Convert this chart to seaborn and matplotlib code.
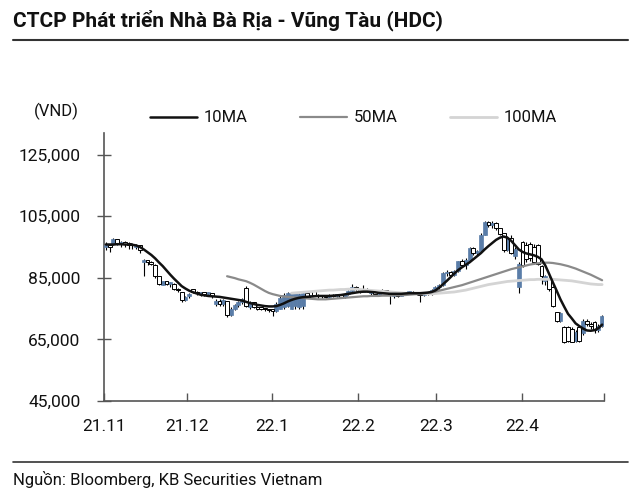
import numpy as np
import pandas as pd
import matplotlib
matplotlib.use("Agg")
import matplotlib.pyplot as plt
from matplotlib.lines import Line2D
from matplotlib.ticker import FuncFormatter
import seaborn as sns

# ---------------- data (prices in thousand VND) ----------------
title = "CTCP Phát triển Nhà Bà Rịa - Vũng Tàu (HDC)"
source = "Nguồn: Bloomberg, KB Securities Vietnam"
unit_label = "(VND)"
month_labels = ["21.11", "21.12", "22.1", "22.2", "22.3", "22.4", ""]
month_tick_pos = [-0.5, 21.4, 43.9, 66.6, 87.1, 109.9, 131.5]
y_ticks = [45000, 65000, 85000, 105000, 125000]

open_ = [95.0, 95.5, 96.0, 97.5, 96.0, 96.5, 96.0, 95.8, 95.0, 95.6,
         90.0, 90.8, 90.0, 89.0, 85.5, 82.5, 83.8, 83.0, 83.0, 81.5,
         80.5, 77.8, 79.0, 81.2, 80.3, 80.0, 80.2, 79.8, 79.9, 76.5,
         77.5, 76.5, 77.5, 73.0, 75.0, 76.2, 77.0, 81.8, 75.5, 77.0,
         75.5, 75.2, 75.0, 74.8, 74.5, 74.3, 75.0, 75.5, 76.0, 75.0,
         76.0, 75.5, 76.0, 80.0, 79.0, 80.6, 79.5, 79.0, 79.3, 78.8,
         79.5, 79.0, 79.6, 78.8, 79.8, 80.8, 82.0, 81.2, 80.5, 81.5,
         80.0, 80.6, 79.6, 80.5, 80.9, 80.3, 79.0, 79.8, 79.2, 80.0,
         80.2, 80.5, 80.0, 80.0, 79.3, 80.0, 79.6, 81.0, 82.0, 82.5,
         86.5, 87.0, 85.8, 87.2, 90.3, 89.0, 90.8, 94.8, 93.0, 93.8,
         99.0, 103.0, 102.0, 102.8, 101.0, 99.5, 94.0, 98.0, 92.0, 82.0,
         96.5, 95.5, 96.0, 95.0, 95.5, 88.7, 84.0, 85.0, 82.0, 73.8,
         71.0, 69.0, 69.0, 68.5, 64.5, 69.0, 67.0, 71.0, 70.0, 70.5,
         68.0, 69.5]
high = [96.5, 96.0, 97.8, 97.5, 97.0, 96.8, 96.5, 96.2, 96.0, 95.6,
        91.2, 90.8, 90.5, 89.5, 85.5, 84.0, 84.0, 83.5, 83.2, 81.8,
        80.5, 79.0, 80.0, 81.5, 80.8, 80.5, 80.4, 80.3, 80.0, 78.0,
        78.0, 78.0, 77.5, 75.5, 76.5, 77.5, 78.3, 82.3, 77.5, 77.2,
        76.0, 75.5, 75.3, 75.0, 74.8, 77.0, 79.0, 80.0, 80.3, 80.3,
        80.5, 80.0, 80.3, 80.2, 79.5, 80.8, 79.8, 79.5, 79.5, 79.8,
        79.8, 79.8, 79.7, 80.0, 81.0, 83.0, 82.2, 81.5, 82.8, 81.8,
        81.0, 80.8, 80.8, 81.2, 81.0, 80.5, 80.0, 80.0, 80.3, 80.5,
        80.8, 80.7, 80.4, 80.2, 80.2, 80.3, 81.2, 82.2, 83.0, 86.8,
        87.5, 87.2, 87.5, 90.5, 91.0, 91.5, 95.0, 95.0, 94.0, 99.5,
        103.5, 103.5, 103.3, 103.0, 101.2, 99.6, 98.5, 99.0, 95.0, 90.0,
        97.0, 96.5, 96.5, 96.0, 96.0, 89.0, 86.0, 85.3, 82.3, 74.0,
        74.0, 69.5, 69.3, 69.0, 68.0, 69.5, 71.5, 71.5, 70.5, 71.0,
        70.0, 73.0]
low = [94.0, 93.5, 95.5, 95.5, 95.0, 95.0, 94.5, 94.5, 94.5, 93.0,
       85.5, 89.0, 89.0, 85.0, 82.5, 82.5, 82.5, 82.0, 81.0, 80.5,
       77.2, 77.5, 78.5, 80.0, 79.5, 79.0, 79.0, 79.0, 78.5, 75.8,
       76.0, 76.0, 72.3, 72.5, 74.5, 75.5, 76.5, 75.5, 75.0, 75.2,
       74.5, 74.5, 74.3, 74.0, 72.5, 74.0, 74.8, 75.0, 75.5, 74.8,
       75.0, 75.0, 74.8, 78.8, 78.5, 79.0, 78.5, 78.5, 78.5, 78.5,
       78.8, 78.8, 78.5, 78.5, 79.5, 80.5, 80.8, 80.2, 80.3, 80.3,
       79.2, 79.0, 79.5, 80.0, 80.0, 76.4, 78.5, 78.8, 79.0, 79.5,
       79.8, 79.8, 79.5, 77.0, 79.0, 79.3, 79.5, 80.5, 81.5, 82.3,
       85.5, 85.5, 85.5, 87.0, 88.5, 88.0, 90.5, 92.5, 92.0, 93.5,
       98.8, 101.5, 101.0, 100.5, 98.8, 93.5, 93.8, 92.8, 91.0, 80.0,
       88.5, 90.0, 90.5, 89.5, 89.0, 83.0, 82.5, 80.8, 75.5, 70.5,
       70.8, 63.8, 64.0, 64.0, 64.0, 64.0, 66.5, 69.5, 68.5, 67.0,
       67.5, 69.0]
close = [95.5, 95.0, 97.5, 96.0, 96.5, 96.0, 95.8, 95.5, 95.6, 94.0,
         90.8, 90.0, 89.6, 85.5, 83.0, 83.8, 83.0, 83.2, 81.5, 81.0,
         77.8, 78.8, 79.8, 80.3, 80.0, 80.2, 79.8, 79.9, 79.0, 77.5,
         76.5, 77.8, 72.8, 75.0, 76.2, 77.0, 78.0, 76.0, 77.0, 75.5,
         75.0, 75.0, 74.8, 74.5, 74.3, 76.5, 78.5, 79.5, 80.0, 80.0,
         80.2, 79.8, 80.0, 79.0, 79.2, 79.5, 79.0, 79.3, 78.8, 79.5,
         79.0, 79.6, 78.8, 79.8, 80.8, 82.0, 81.2, 80.5, 81.5, 80.6,
         80.6, 79.6, 80.5, 80.9, 80.3, 79.5, 79.8, 79.2, 80.0, 80.2,
         80.5, 80.0, 80.2, 79.3, 80.0, 79.6, 81.0, 82.0, 82.5, 86.5,
         87.0, 85.8, 87.2, 90.3, 89.0, 90.8, 94.8, 93.0, 93.8, 99.0,
         103.0, 102.0, 102.8, 101.0, 99.3, 94.0, 98.0, 93.0, 94.5, 89.5,
         89.0, 91.0, 91.5, 90.0, 89.5, 85.5, 85.5, 81.2, 76.0, 71.0,
         73.5, 64.2, 64.5, 64.3, 67.5, 64.5, 71.0, 70.0, 69.5, 68.0,
         69.5, 72.5]

ma10 = [95.8, 95.8, 95.8, 95.9, 95.9, 95.8, 95.8, 95.7, 95.5, 95.0,
        94.2, 93.3, 92.4, 91.3, 90.0, 88.8, 87.4, 86.0, 84.7, 83.5,
        82.3, 81.5, 80.8, 80.3, 79.9, 79.5, 79.3, 79.1, 79.0, 78.9,
        78.8, 78.6, 78.4, 78.2, 78.0, 77.8, 77.6, 77.2, 76.8, 76.5,
        76.2, 76.0, 75.8, 75.7, 75.7, 75.8, 76.2, 76.7, 77.3, 77.8,
        78.2, 78.5, 78.7, 78.8, 78.9, 79.0, 79.1, 79.1, 79.1, 79.1,
        79.2, 79.3, 79.4, 79.6, 79.8, 80.0, 80.2, 80.4, 80.5, 80.5,
        80.4, 80.3, 80.1, 80.0, 79.9, 79.8, 79.8, 79.8, 79.8, 79.9,
        80.0, 80.0, 80.0, 80.0, 80.1, 80.2, 80.4, 80.9, 81.8, 82.9,
        84.0, 85.2, 86.4, 87.5, 88.4, 89.2, 90.0, 91.0, 92.0, 93.0,
        94.2, 95.3, 96.3, 97.3, 98.0, 98.4, 98.0, 97.0, 95.6, 94.2,
        93.4, 92.9, 92.6, 92.3, 91.8, 91.0, 89.0, 86.3, 83.5, 80.8,
        78.0, 75.6, 73.3, 71.8, 70.2, 69.3, 68.5, 67.9, 67.8, 68.0,
        68.6, 69.8]
ma50 = [np.nan] * 32 + [
        85.5, 85.2, 84.9, 84.5, 84.2, 83.9, 83.4, 82.8, 82.1, 81.4,
        80.7, 80.1, 79.7, 79.4, 79.1, 78.9, 78.8, 78.7, 78.6, 78.5,
        78.4, 78.3, 78.2, 78.1, 78.0, 78.0, 78.0, 78.1, 78.2, 78.3,
        78.4, 78.5, 78.6, 78.7, 78.8, 78.9, 79.0, 79.0, 79.1, 79.1,
        79.1, 79.2, 79.2, 79.2, 79.3, 79.3, 79.3, 79.4, 79.5, 79.6,
        79.7, 79.8, 79.9, 80.1, 80.3, 80.5, 80.8, 81.1, 81.4, 81.7,
        82.0, 82.3, 82.6, 83.0, 83.4, 83.8, 84.2, 84.6, 85.0, 85.4,
        85.8, 86.2, 86.6, 87.0, 87.4, 87.8, 88.1, 88.4, 88.7, 89.0,
        89.3, 89.5, 89.7, 89.8, 89.9, 89.9, 89.8, 89.6, 89.4, 89.1,
        88.8, 88.4, 88.0, 87.5, 87.0, 86.5, 86.0, 85.4, 84.8, 84.2]
ma100 = [np.nan] * 49 + [
        80.0, 80.1, 80.2, 80.3, 80.4, 80.5, 80.6, 80.7, 80.8, 80.9,
        81.0, 81.0, 81.1, 81.2, 81.2, 81.3, 81.3, 81.3, 81.2, 81.1,
        81.0, 80.9, 80.8, 80.7, 80.6, 80.5, 80.4, 80.3, 80.2, 80.1,
        80.0, 80.0, 79.9, 79.9, 79.8, 79.8, 79.8, 79.8, 79.9, 80.0,
        80.1, 80.2, 80.3, 80.4, 80.6, 80.8, 81.0, 81.3, 81.6, 81.9,
        82.2, 82.5, 82.8, 83.0, 83.2, 83.4, 83.6, 83.8, 83.9, 84.0,
        84.1, 84.2, 84.3, 84.4, 84.4, 84.5, 84.5, 84.5, 84.5, 84.5,
        84.4, 84.3, 84.2, 84.1, 84.0, 83.8, 83.6, 83.4, 83.2, 83.0,
        82.9, 82.8, 82.8]

# ---------------- styling ----------------
sns.set_style("white")
plt.rcParams["font.family"] = ["Roboto", "Noto Sans", "DejaVu Sans"]

BLUE = "#5A7DA8"
AX_COL = "#555555"

days = np.arange(len(close))
df = pd.DataFrame({
    "day": days,
    "open": np.array(open_) * 1000,
    "high": np.array(high) * 1000,
    "low": np.array(low) * 1000,
    "close": np.array(close) * 1000,
    "ma10": np.array(ma10) * 1000,
    "ma50": np.array(ma50) * 1000,
    "ma100": np.array(ma100[:len(close)]) * 1000,
})

fig = plt.figure(figsize=(6.4, 4.96), dpi=100)
ax = fig.add_axes([104 / 640, 1 - 401 / 496, 500 / 640, (401 - 133) / 496])

# candles
up = df["close"] >= df["open"]
ax.vlines(df["day"], df["low"], df["high"], color="black", lw=0.8, zorder=2)
body_bottom = np.minimum(df["open"], df["close"])
body_h = np.maximum(np.abs(df["close"] - df["open"]), 500)
ax.bar(df["day"][up], body_h[up], bottom=body_bottom[up], width=1.05,
       color=BLUE, edgecolor=BLUE, linewidth=0.5, zorder=3)
ax.bar(df["day"][~up], body_h[~up], bottom=body_bottom[~up], width=1.0,
       color="white", edgecolor="black", linewidth=0.7, zorder=3)

# moving averages
sns.lineplot(data=df, x="day", y="ma100", color="#d4d4d4", lw=2.0, ax=ax, zorder=4, legend=False)
sns.lineplot(data=df, x="day", y="ma50", color="#8a8a8a", lw=1.6, ax=ax, zorder=5, legend=False)
sns.lineplot(data=df, x="day", y="ma10", color="#111111", lw=1.8, ax=ax, zorder=6, legend=False)

ax.set_xlim(-0.5, 131.5)
ax.set_ylim(45000, 132000)
ax.set_xlabel("")
ax.set_ylabel("")
ax.set_yticks(y_ticks)
ax.yaxis.set_major_formatter(FuncFormatter(lambda v, p: f"{v:,.0f}"))
ax.set_xticks(month_tick_pos)
ax.set_xticklabels(month_labels)
for s in ["top", "right"]:
    ax.spines[s].set_visible(False)
for s in ["left", "bottom"]:
    ax.spines[s].set_color(AX_COL)
    ax.spines[s].set_linewidth(1.2)
ax.tick_params(axis="y", direction="inout", length=10, width=1, color=AX_COL,
               pad=12, labelsize=12.5, labelcolor="#111111", left=True)
ax.tick_params(axis="x", direction="in", length=6, width=1, color=AX_COL,
               pad=13, labelsize=12.5, labelcolor="#111111", bottom=True)
ax.grid(False)

# title & rules
fig.text(13 / 640, 1 - 20 / 496, title, fontsize=15, fontweight="bold",
         va="center", ha="left", color="#111111")
fig.add_artist(Line2D([13 / 640, 628 / 640], [1 - 40 / 496] * 2, color="#333333", lw=1.5))
fig.add_artist(Line2D([13 / 640, 628 / 640], [1 - 462 / 496] * 2, color="#333333", lw=1.2))
fig.text(13 / 640, 1 - 479 / 496, source, fontsize=12, va="center", ha="left", color="#111111")

# unit + legend
fig.text(34 / 640, 1 - 111 / 496, unit_label, fontsize=12, va="center", ha="left", color="#111111")
leg_y = 1 - 117 / 496
for x0, col, lw, lab in [(150, "#111111", 1.8, "10MA"), (300, "#8a8a8a", 1.6, "50MA"),
                         (450, "#d4d4d4", 2.0, "100MA")]:
    fig.add_artist(Line2D([x0 / 640, (x0 + 47) / 640], [leg_y] * 2, color=col, lw=lw))
    fig.text((x0 + 54) / 640, leg_y, lab, fontsize=12, va="center", ha="left", color="#111111")

fig.savefig("out.png", dpi=100)
